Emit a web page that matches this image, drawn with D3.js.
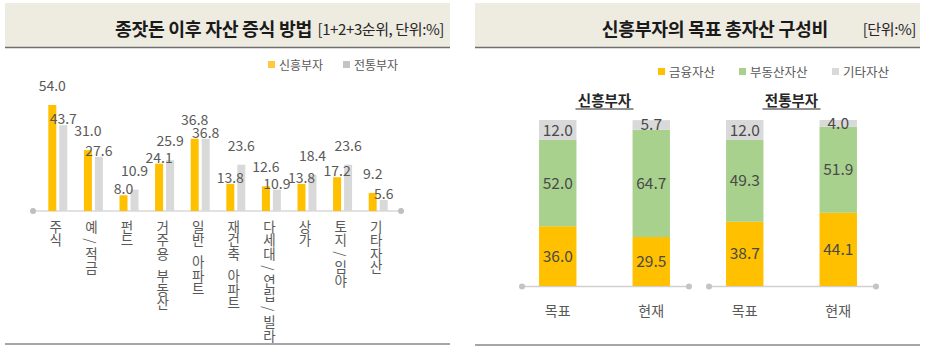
<!DOCTYPE html>
<html><head><meta charset="utf-8">
<script src="https://cdn.jsdelivr.net/npm/d3@7"></script>
<style>
html,body{margin:0;padding:0;background:#fff;}
svg{display:block;font-family:"Noto Sans CJK KR","Noto Sans",sans-serif;}
.vert{writing-mode:vertical-rl;text-orientation:mixed;}
</style></head>
<body>
<svg id="c" width="936" height="357"></svg>
<script>
// ---- Left chart data ----
const leftTitle = "종잣돈 이후 자산 증식 방법";
const leftUnit = "[1+2+3순위, 단위:%]";
const leftCategories = ["주식","예/적금","펀드","거주용 부동산","일반 아파트","재건축 아파트","다세대/연립/빌라","상가","토지/임야","기타자산"];
const leftSeries = ["신흥부자","전통부자"];
const newRich = [54.0, 31.0, 8.0, 24.1, 36.8, 13.8, 12.6, 13.8, 17.2, 9.2];
const oldRich = [43.7, 27.6, 10.9, 25.9, 36.8, 23.6, 10.9, 18.4, 23.6, 5.6];

// ---- Right chart data ----
const rightTitle = "신흥부자의 목표 총자산 구성비";
const rightUnit = "[단위:%]";
const groups = ["신흥부자","전통부자"];
const periods = ["목표","현재"];
const assetTypes = ["금융자산","부동산자산","기타자산"];
const financial = [36.0, 29.5, 38.7, 44.1];
const realEstate = [52.0, 64.7, 49.3, 51.9];
const otherAssets = [12.0, 5.7, 12.0, 4.0];

const svg = d3.select("#c");
const YEL = "#ffc000", GRY = "#d9d9d9", GRN = "#a9d18e";
const TXT = "#595959";

function header(x0, x1, title, unit, titleEnd, unitEnd){
  svg.append("rect").attr("x",x0).attr("y",3).attr("width",x1-x0).attr("height",44).attr("fill","#eeebe1");
  svg.append("line").attr("x1",x0).attr("x2",x1).attr("y1",47.5).attr("y2",47.5).attr("stroke","#6f6f6f").attr("stroke-width",1.5);
  svg.append("text").attr("x",titleEnd).attr("y",35.5).attr("text-anchor","end")
    .attr("font-size",18.3).attr("font-weight","bold").attr("fill","#1a1a1a").attr("letter-spacing",-0.3).text(title);
  svg.append("text").attr("x",unitEnd).attr("y",35).attr("text-anchor","end")
    .attr("font-size",15).attr("fill","#262626").attr("letter-spacing",-0.4).text(unit);
}
header(5, 450, leftTitle, leftUnit, 312, 444);
header(475, 920, rightTitle, rightUnit, 828, 916);

// bottom lines
[[5,450,344],[475,920,345]].forEach(d=>{
  svg.append("line").attr("x1",d[0]).attr("x2",d[1]).attr("y1",d[2]).attr("y2",d[2]).attr("stroke","#a6a6a6").attr("stroke-width",2);
});

// ---------- Left chart ----------
const xL = d3.scaleBand().domain(leftCategories).range([40,396]);
const yL = d3.scaleLinear().domain([0,54]).range([211,105]);
const leftVals = [newRich, oldRich];
const leftCols = [YEL, GRY];
const offs = [-9.5, 1.5];

// legend
const lg = svg.append("g");
[[268, "#ffc83d"],[343, "#c4c4c4"]].forEach((d,i)=>{
  lg.append("rect").attr("x",d[0]).attr("y",61).attr("width",7).attr("height",7).attr("fill",d[1]);
  lg.append("text").attr("x",d[0]+11).attr("y",69.5).attr("font-size",12).attr("fill",TXT).text(leftSeries[i]);
});

// axis line
svg.append("line").attr("x1",33).attr("x2",401).attr("y1",211).attr("y2",211).attr("stroke","#d9d9d9").attr("stroke-width",1.5);
[33,401].forEach(x=>svg.append("circle").attr("cx",x).attr("cy",211).attr("r",3).attr("fill","#bfbfbf"));

leftVals.forEach((vals,s)=>{
  const g = svg.append("g");
  g.selectAll("rect").data(leftCategories).join("rect")
    .attr("x",(c)=>xL(c)+xL.bandwidth()/2+offs[s])
    .attr("width",8)
    .attr("y",(c,i)=>yL(vals[i]))
    .attr("height",(c,i)=>yL(0)-yL(vals[i]))
    .attr("fill",leftCols[s]);
});
// labels: the taller bar of each pair gets its label lifted, the other sits on its bar
function lift(s,i){
  const mine = leftVals[s][i], other = leftVals[1-s][i];
  const taller = mine > other || (mine === other && s === 0);
  return taller ? 14 : 1;
}
leftVals.forEach((vals,s)=>{
  svg.append("g").selectAll("text").data(leftCategories).join("text")
    .attr("x",(c)=>xL(c)+xL.bandwidth()/2+offs[s]+4)
    .attr("y",(c,i)=>yL(vals[i])-lift(s,i))
    .attr("text-anchor","middle").attr("font-size",14).attr("fill",TXT)
    .text((c,i)=>vals[i].toFixed(1));
});

// vertical category labels: vertical writing, with extra room around slashes and spaces
leftCategories.forEach(c=>{
  const t = svg.append("text").attr("class","vert")
    .attr("x",xL(c)+xL.bandwidth()/2 - 2).attr("y",220)
    .attr("font-size",13.5).attr("fill",TXT);
  const parts = c.split(/([\/ ])/).filter(p=>p!=="");
  let extra = 0;
  parts.forEach(p=>{
    if(p==="/"){
      t.append("tspan").attr("dy",extra+4.3).text("/");
      extra = 4.3;
    } else if(p===" "){
      extra += 5 + 3.4;
    } else {
      t.append("tspan").attr("dy",extra).text(p);
      extra = 0;
    }
  });
});

// ---------- Right chart ----------
const keys = [];
groups.forEach(g=>periods.forEach(p=>keys.push(g+"|"+p)));
const xR = d3.scaleBand().domain(keys).range([511,885]);
const yR = d3.scaleLinear().domain([0,100]).range([286,120]);
const bw = xR.bandwidth()*0.4;
const rows = keys.map((k,i)=>({key:k, 금융자산:financial[i], 부동산자산:realEstate[i], 기타자산:otherAssets[i]}));
const stack = d3.stack().keys(assetTypes)(rows);
const rCols = {"금융자산":YEL, "부동산자산":GRN, "기타자산":GRY};

// legend
[[658,"#ffc000"],[739,"#a9d18e"],[832,"#d9d9d9"]].forEach((d,i)=>{
  svg.append("rect").attr("x",d[0]).attr("y",68).attr("width",7).attr("height",7).attr("fill",d[1]);
  svg.append("text").attr("x",d[0]+11).attr("y",76.5).attr("font-size",12.5).attr("fill",TXT).text(assetTypes[i]);
});

// group titles
groups.forEach((g,i)=>{
  const k1 = xR(g+"|"+periods[0]), k2 = xR(g+"|"+periods[1])+xR.bandwidth();
  const cx = (k1+k2)/2;
  svg.append("text").attr("x",cx).attr("y",106).attr("text-anchor","middle")
    .attr("font-size",14.5).attr("font-weight","bold").attr("fill","#262626").text(g);
  svg.append("line").attr("x1",cx-29).attr("x2",cx+29).attr("y1",109).attr("y2",109).attr("stroke","#262626").attr("stroke-width",1);
  // axis line
  svg.append("line").attr("x1",k1+11).attr("x2",k2-9).attr("y1",286.5).attr("y2",286.5).attr("stroke","#d0d0d0").attr("stroke-width",1.5);
  [k1+11,k2-9].forEach(x=>svg.append("circle").attr("cx",x).attr("cy",286.5).attr("r",3).attr("fill","#c4c4c4"));
});

stack.forEach(layer=>{
  const g = svg.append("g");
  g.selectAll("rect").data(layer).join("rect")
    .attr("x",d=>xR(d.data.key)+xR.bandwidth()/2-bw/2)
    .attr("width",bw)
    .attr("y",d=>yR(d[1]))
    .attr("height",d=>yR(d[0])-yR(d[1]))
    .attr("fill",rCols[layer.key]);
});
stack.forEach(layer=>{
  svg.append("g").selectAll("text").data(layer).join("text")
    .attr("x",d=>xR(d.data.key)+xR.bandwidth()/2)
    .attr("y",d=>(yR(d[0])+yR(d[1]))/2)
    .attr("dy","0.36em")
    .attr("text-anchor","middle").attr("font-size",15.5).attr("fill","#4a4a4a")
    .text(d=>(d[1]-d[0]).toFixed(1));
});

// period labels
keys.forEach(k=>{
  svg.append("text").attr("x",xR(k)+xR.bandwidth()/2).attr("y",316).attr("text-anchor","middle")
    .attr("font-size",14).attr("fill",TXT).text(k.split("|")[1]);
});
</script>
</body></html>
